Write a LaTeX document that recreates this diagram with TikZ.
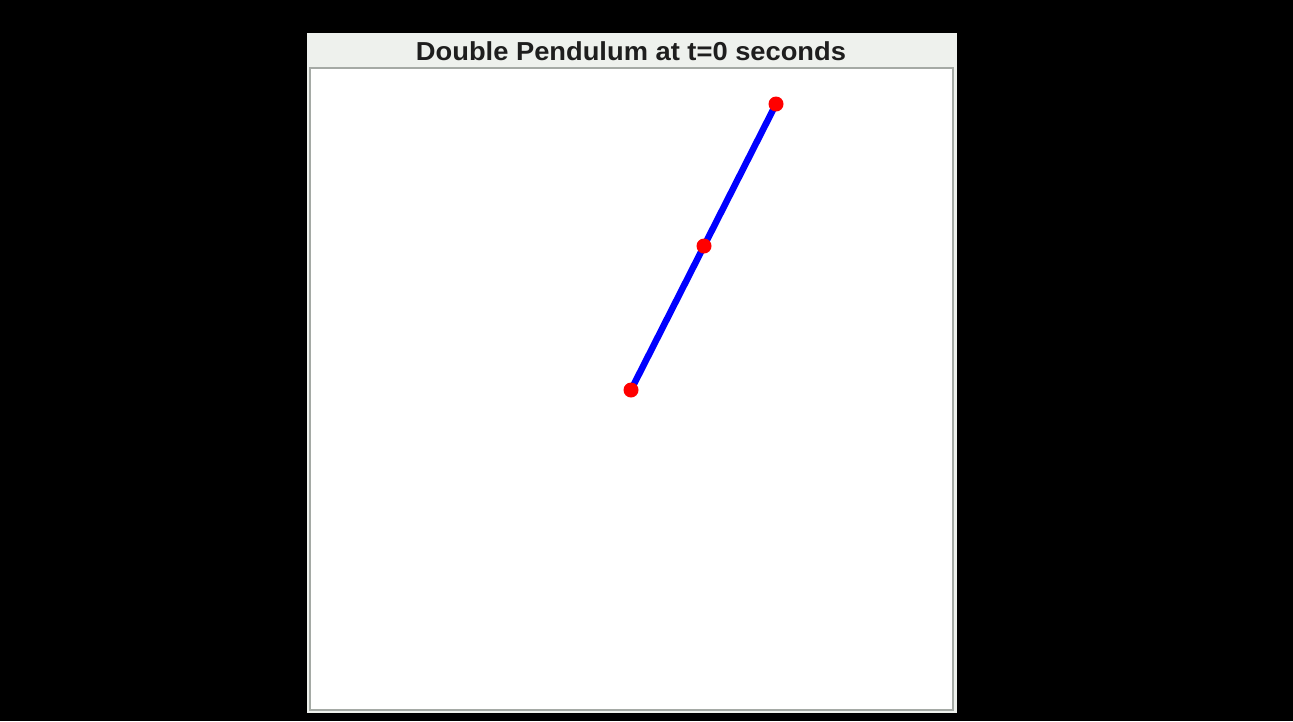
\documentclass[tikz,border=0pt]{standalone}
\usepackage{fontspec}
\setmainfont{Liberation Sans}
\begin{document}
\begin{tikzpicture}[x=1pt,y=-1pt,
  panel/.style={fill=panelbg,draw=none},
  plotbox/.style={fill=white,draw=boxgray,line width=2pt},
  rod/.style={draw=blue,line width=6.5pt},
  bob/.style={circle,fill=red,inner sep=0pt,minimum size=15pt},
  titletext/.style={font=\fontsize{26}{30}\selectfont\bfseries,text=titlegray,xscale=1.05}]
\definecolor{panelbg}{RGB}{238,241,237}
\definecolor{boxgray}{RGB}{165,170,165}
\definecolor{titlegray}{RGB}{30,30,30}
\fill[black] (0,0) rectangle (1293,721);
\useasboundingbox (0,0) rectangle (1293,721);
\fill[panel] (307,33) rectangle (957,713);
\draw[plotbox] (310,68) rectangle (953,710);
\node[titletext] (title) at (631,51) {Double Pendulum at t=0 seconds};
\coordinate (pivot) at (776,104);
\coordinate (mid) at (704,246);
\coordinate (end) at (631,390);
\draw[rod] (pivot) -- (mid) -- (end);
\node[bob] (b0) at (pivot) {};
\node[bob] (b1) at (mid) {};
\node[bob] (b2) at (end) {};
\end{tikzpicture}
\end{document}
